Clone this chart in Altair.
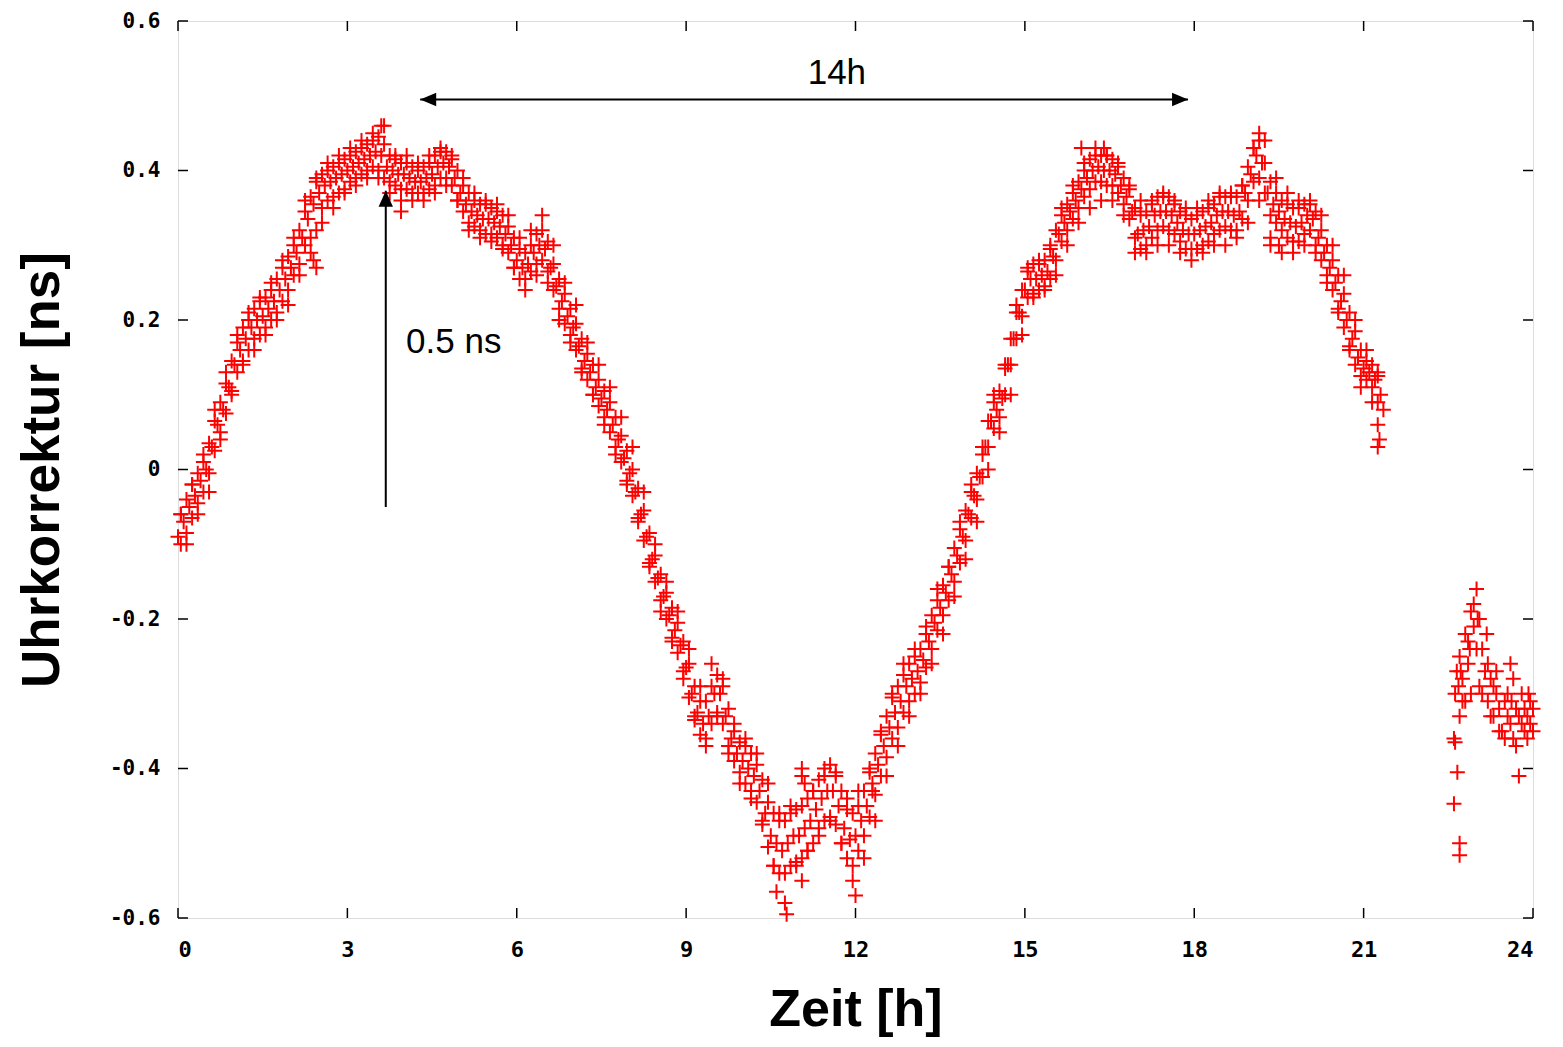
import altair as alt
import pandas as pd

# ---- data ----
# main band, centre trace sampled every 0.1 h starting at 0.0 h
mid_v = [
    -0.09, -0.07, -0.05, -0.035, -0.015, 0.0, 0.03, 0.06, 0.08, 0.11,
    0.14, 0.16, 0.175, 0.19, 0.2, 0.205, 0.215, 0.225, 0.24, 0.255,
    0.27, 0.29, 0.31, 0.335, 0.355, 0.37, 0.38, 0.385, 0.39, 0.395,
    0.4, 0.405, 0.41, 0.415, 0.42, 0.425, 0.42, 0.405, 0.4, 0.395,
    0.395, 0.39, 0.385, 0.385, 0.39, 0.395, 0.405, 0.41, 0.405, 0.39,
    0.37, 0.355, 0.345, 0.34, 0.335, 0.335, 0.33, 0.325, 0.315, 0.3,
    0.28, 0.27, 0.275, 0.29, 0.3, 0.295, 0.27, 0.245, 0.225, 0.205,
    0.19, 0.165, 0.145, 0.13, 0.11, 0.095, 0.08, 0.06, 0.04, 0.015,
    -0.005, -0.03, -0.06, -0.09, -0.12, -0.145, -0.17, -0.195, -0.215, -0.235,
    -0.265, -0.3, -0.325, -0.34, -0.33, -0.3, -0.3, -0.33, -0.36, -0.38,
    -0.39, -0.4, -0.41, -0.43, -0.46, -0.49, -0.5, -0.51, -0.5, -0.49,
    -0.49, -0.48, -0.47, -0.455, -0.44, -0.43, -0.43, -0.45, -0.48, -0.495,
    -0.49, -0.47, -0.45, -0.42, -0.395, -0.37, -0.345, -0.325, -0.31, -0.29,
    -0.28, -0.27, -0.255, -0.23, -0.205, -0.185, -0.165, -0.14, -0.115, -0.09,
    -0.06, -0.035, -0.01, 0.03, 0.065, 0.08, 0.095, 0.14, 0.175, 0.21,
    0.24, 0.255, 0.255, 0.26, 0.265, 0.285, 0.315, 0.33, 0.345, 0.36,
    0.375, 0.39, 0.4, 0.405, 0.4, 0.4, 0.395, 0.38, 0.365, 0.345,
    0.315, 0.32, 0.325, 0.34, 0.345, 0.345, 0.34, 0.33, 0.32, 0.315,
    0.315, 0.32, 0.325, 0.33, 0.34, 0.345, 0.345, 0.34, 0.345, 0.37,
    0.395, 0.42, 0.41, 0.37, 0.355, 0.345, 0.335, 0.33, 0.325, 0.33,
    0.34, 0.335, 0.31, 0.29, 0.27, 0.25, 0.225, 0.2, 0.175, 0.15,
    0.135, 0.13, 0.12, 0.1,
]
# upper-middle of the band, every 0.1 h starting at 0.05 h
um_v = [
    -0.06, -0.04, -0.02, -0.005, 0.01, 0.035, 0.065, 0.09, 0.115, 0.145,
    0.17, 0.19, 0.2, 0.215, 0.225, 0.23, 0.24, 0.255, 0.27, 0.285,
    0.3, 0.32, 0.345, 0.365, 0.385, 0.395, 0.4, 0.405, 0.41, 0.415,
    0.42, 0.425, 0.43, 0.435, 0.44, 0.445, 0.435, 0.42, 0.415, 0.41,
    0.41, 0.405, 0.4, 0.405, 0.41, 0.42, 0.425, 0.425, 0.415, 0.4,
    0.38, 0.37, 0.36, 0.355, 0.355, 0.35, 0.345, 0.34, 0.325, 0.31,
    0.295, 0.29, 0.3, 0.315, 0.32, 0.305, 0.275, 0.255, 0.235, 0.215,
    0.195, 0.175, 0.155, 0.14, 0.12, 0.105, 0.09, 0.07, 0.045, 0.025,
    0.0, -0.025, -0.055, -0.085, -0.115, -0.14, -0.165, -0.185, -0.205, -0.23,
    -0.26, -0.29, -0.31, -0.31, -0.29, -0.275, -0.29, -0.32, -0.35, -0.365,
    -0.37, -0.38, -0.395, -0.415, -0.445, -0.46, -0.47, -0.47, -0.46, -0.455,
    -0.45, -0.44, -0.43, -0.415, -0.4, -0.395, -0.405, -0.43, -0.455, -0.46,
    -0.45, -0.43, -0.405, -0.38, -0.355, -0.33, -0.305, -0.29, -0.275, -0.26,
    -0.25, -0.24, -0.22, -0.195, -0.175, -0.155, -0.13, -0.105, -0.08, -0.055,
    -0.03, -0.005, 0.03, 0.065, 0.09, 0.105, 0.135, 0.175, 0.21, 0.24,
    0.265, 0.275, 0.275, 0.28, 0.295, 0.32, 0.34, 0.355, 0.37, 0.385,
    0.4, 0.415, 0.42, 0.42, 0.42, 0.415, 0.405, 0.39, 0.375, 0.35,
    0.34, 0.345, 0.355, 0.365, 0.365, 0.365, 0.355, 0.345, 0.34, 0.335,
    0.34, 0.345, 0.35, 0.355, 0.365, 0.365, 0.365, 0.365, 0.38, 0.405,
    0.43, 0.44, 0.41, 0.385, 0.37, 0.36, 0.355, 0.35, 0.35, 0.355,
    0.355, 0.345, 0.32, 0.3, 0.28, 0.26, 0.235, 0.21, 0.185, 0.16,
    0.145, 0.14, 0.125,
]
# lower-middle of the band, every 0.1 h starting at 0.05 h
lm_v = [
    -0.1, -0.085, -0.065, -0.045, -0.03, -0.005, 0.025, 0.05, 0.075, 0.105,
    0.13, 0.145, 0.16, 0.175, 0.18, 0.19, 0.2, 0.21, 0.225, 0.24,
    0.26, 0.275, 0.3, 0.31, 0.32, 0.35, 0.36, 0.365, 0.37, 0.375,
    0.385, 0.39, 0.395, 0.4, 0.405, 0.4, 0.39, 0.385, 0.38, 0.375,
    0.375, 0.37, 0.37, 0.37, 0.375, 0.38, 0.39, 0.39, 0.38, 0.36,
    0.345, 0.33, 0.325, 0.32, 0.315, 0.315, 0.31, 0.3, 0.29, 0.27,
    0.255, 0.255, 0.265, 0.275, 0.28, 0.265, 0.24, 0.215, 0.195, 0.18,
    0.16, 0.135, 0.12, 0.1, 0.085, 0.07, 0.05, 0.03, 0.01, -0.015,
    -0.035, -0.065, -0.095, -0.125, -0.15, -0.175, -0.2, -0.225, -0.245, -0.27,
    -0.305, -0.335, -0.355, -0.36, -0.34, -0.325, -0.34, -0.37, -0.39, -0.405,
    -0.42, -0.43, -0.445, -0.475, -0.505, -0.53, -0.54, -0.54, -0.53, -0.525,
    -0.52, -0.51, -0.5, -0.48, -0.47, -0.465, -0.475, -0.5, -0.52, -0.53,
    -0.51, -0.49, -0.465, -0.435, -0.41, -0.385, -0.36, -0.345, -0.325, -0.31,
    -0.3, -0.285, -0.265, -0.24, -0.215, -0.195, -0.175, -0.15, -0.125, -0.095,
    -0.065, -0.04, -0.01, 0.03, 0.055, 0.07, 0.1, 0.14, 0.175, 0.205,
    0.23, 0.235, 0.24, 0.245, 0.255, 0.28, 0.305, 0.32, 0.335, 0.35,
    0.365, 0.375, 0.385, 0.385, 0.38, 0.38, 0.37, 0.355, 0.335, 0.31,
    0.295, 0.3, 0.31, 0.32, 0.325, 0.32, 0.315, 0.305, 0.295, 0.295,
    0.295, 0.3, 0.305, 0.315, 0.32, 0.325, 0.32, 0.32, 0.335, 0.36,
    0.385, 0.39, 0.37, 0.34, 0.33, 0.32, 0.31, 0.305, 0.305, 0.315,
    0.32, 0.3, 0.28, 0.26, 0.24, 0.215, 0.19, 0.165, 0.14, 0.125,
    0.12, 0.11, 0.09,
]
# upper edge of the band, every 0.2 h starting at 0.05 h
hi_v = [
    -0.06, -0.02, 0.02, 0.08, 0.13, 0.18, 0.21, 0.23, 0.25, 0.28,
    0.31, 0.36, 0.39, 0.41, 0.42, 0.43, 0.44, 0.45, 0.46, 0.42,
    0.42, 0.41, 0.42, 0.43, 0.42, 0.39, 0.37, 0.36, 0.355, 0.34,
    0.31, 0.32, 0.34, 0.3, 0.25, 0.22, 0.17, 0.14, 0.11, 0.07,
    0.03, -0.03, -0.1, -0.15, -0.19, -0.24, -0.29, -0.26, -0.28, -0.34,
    -0.36, -0.38, -0.42, -0.46, -0.45, -0.4, -0.43, -0.41, -0.41, -0.44,
    -0.43, -0.4, -0.35, -0.3, -0.26, -0.24, -0.21, -0.16, -0.13, -0.07,
    -0.02, 0.02, 0.1, 0.14, 0.22, 0.27, 0.28, 0.3, 0.35, 0.38,
    0.41, 0.43, 0.42, 0.41, 0.38, 0.36, 0.36, 0.37, 0.36, 0.35,
    0.35, 0.36, 0.37, 0.37, 0.38, 0.43, 0.44, 0.39, 0.37, 0.36,
    0.36, 0.34, 0.3, 0.26, 0.2, 0.16, 0.13,
]
# lower edge of the band, every 0.2 h starting at 0.15 h
lo_v = [
    -0.1, -0.06, -0.03, 0.04, 0.1, 0.14, 0.16, 0.18, 0.2, 0.22,
    0.26, 0.29, 0.33, 0.35, 0.37, 0.38, 0.39, 0.39, 0.37, 0.36,
    0.36, 0.36, 0.37, 0.38, 0.36, 0.32, 0.31, 0.305, 0.295, 0.27,
    0.24, 0.26, 0.25, 0.2, 0.17, 0.13, 0.1, 0.06, 0.02, -0.02,
    -0.07, -0.13, -0.19, -0.23, -0.28, -0.33, -0.37, -0.33, -0.38, -0.42,
    -0.44, -0.47, -0.53, -0.58, -0.53, -0.51, -0.49, -0.47, -0.5, -0.55,
    -0.52, -0.47, -0.41, -0.37, -0.33, -0.3, -0.26, -0.22, -0.17, -0.12,
    -0.07, 0.0, 0.05, 0.1, 0.18, 0.23, 0.24, 0.26, 0.3, 0.33,
    0.35, 0.36, 0.36, 0.34, 0.29, 0.29, 0.3, 0.3, 0.29, 0.28,
    0.29, 0.3, 0.3, 0.31, 0.33, 0.36, 0.31, 0.29, 0.29, 0.3,
    0.29, 0.25, 0.21, 0.16, 0.11, 0.09,
]
# isolated points / outliers
extra_t = [10.78, 10.6, 11.05, 12.0, 11.05, 11.1, 12.3, 21.25, 21.28, 21.25,
           21.35, 2.4, 2.45, 3.95, 3.6, 19.35, 19.5, 19.15, 16.0, 16.4]
extra_v = [-0.595, -0.565, -0.55, -0.57, -0.41, -0.42, -0.43, 0.06, 0.04, 0.03,
           0.08, 0.28, 0.27, 0.345, 0.46, 0.3, 0.3, 0.45, 0.43, 0.43]
# group after the data gap (22.6 h - 24 h)
late_t = [22.6, 22.62, 22.65, 22.7, 22.7, 22.75, 22.8, 22.8, 22.85, 22.9,
          22.9, 22.95, 23.0, 23.0, 23.05, 23.05, 23.1, 23.15, 23.2, 23.2,
          23.25, 23.3, 23.3, 23.35, 23.4, 23.45, 23.5, 23.5, 23.55, 23.6,
          23.6, 23.65, 23.7, 23.7, 23.75, 23.8, 23.8, 23.85, 23.9, 23.9,
          23.95, 24.0, 24.0, 22.62, 22.66, 22.6, 22.7, 22.7,
          22.68, 22.75, 22.85, 22.95, 23.1, 23.25, 23.4, 23.55, 23.65, 23.75,
          23.85, 23.95, 22.72, 22.88, 23.02, 23.18, 23.35, 23.62, 23.92]
late_v = [-0.36, -0.3, -0.27, -0.25, -0.33, -0.28, -0.22, -0.31, -0.26, -0.19,
          -0.3, -0.18, -0.16, -0.24, -0.2, -0.29, -0.24, -0.27, -0.26, -0.31,
          -0.28, -0.29, -0.33, -0.3, -0.32, -0.35, -0.31, -0.36, -0.33, -0.26,
          -0.34, -0.28, -0.32, -0.37, -0.41, -0.3, -0.34, -0.32, -0.33, -0.36,
          -0.31, -0.32, -0.35, -0.365, -0.405, -0.447, -0.5, -0.516,
          -0.29, -0.31, -0.23, -0.21, -0.3, -0.33, -0.35, -0.3, -0.36, -0.33,
          -0.35, -0.34, -0.27, -0.24, -0.2, -0.22, -0.27, -0.31, -0.3]

x_ticks = [0, 3, 6, 9, 12, 15, 18, 21, 24]
y_ticks = [-0.6, -0.4, -0.2, 0.0, 0.2, 0.4, 0.6]

# annotations (data units)
h_arrow = {"x": 4.29, "x2": 17.89, "y": 0.495}
v_arrow = {"x": 3.68, "y": -0.05, "y2": 0.373}
labels = pd.DataFrame({"t": [11.67, 4.04], "v": [0.531, 0.171],
                       "txt": ["14h", "0.5 ns"], "al": ["center", "left"]})

# ---- build tables ----
mid_t = [round(0.1 * i, 2) for i in range(len(mid_v))]
um_t = [round(0.05 + 0.1 * i, 2) for i in range(len(um_v))]
lm_t = [round(0.05 + 0.1 * i, 2) for i in range(len(lm_v))]
hi_t = [round(0.05 + 0.2 * i, 2) for i in range(len(hi_v))]
lo_t = [round(0.15 + 0.2 * i, 2) for i in range(len(lo_v))]
df = pd.DataFrame({
    "t": mid_t + um_t + lm_t + hi_t + lo_t + extra_t + late_t,
    "v": mid_v + um_v + lm_v + hi_v + lo_v + extra_v + late_v,
})

W, H = 1355, 897
RED = "#ff0000"
xs = alt.Scale(domain=[0, 24], nice=False, zero=False)
ys = alt.Scale(domain=[-0.6, 0.6], nice=False, zero=False)

x_axis = alt.Axis(values=x_ticks, format="d", ticks=False, tickSize=0, domain=False,
                  grid=False, labelFont="DejaVu Sans Mono", labelFontWeight="bold",
                  labelFontSize=22, labelColor="black", labelPadding=21,
                  title="Zeit [h]", titleFont="Liberation Sans", titleFontSize=52,
                  titleFontWeight="bold", titleColor="black", titlePadding=24)
y_axis = alt.Axis(values=y_ticks, ticks=False, tickSize=0, domain=False, grid=False,
                  labelExpr="datum.value == 0 ? '0' : (datum.value < 0 ? '-' : '') + format(abs(datum.value), '.1f')",
                  labelFont="DejaVu Sans Mono", labelFontWeight="bold",
                  labelFontSize=21, labelColor="black", labelPadding=18,
                  title="Uhrkorrektur [ns]", titleFont="Liberation Sans", titleFontSize=53,
                  titleFontWeight="bold", titleColor="black", titlePadding=40)

base = alt.Chart(df)
points = base.mark_point(
    shape="M-1,0L1,0M0,-1L0,1", size=225, filled=False, color=RED,
    strokeWidth=2, opacity=1,
).encode(x=alt.X("t:Q", scale=xs, axis=x_axis), y=alt.Y("v:Q", scale=ys, axis=y_axis))

xt = pd.DataFrame({"t": x_ticks})
yt = pd.DataFrame({"v": y_ticks})
TL = 10
tick_b = alt.Chart(xt).mark_rule(color="black", strokeWidth=1.5).encode(
    x=alt.X("t:Q", scale=xs), y=alt.value(H), y2=alt.value(H - TL))
tick_t = alt.Chart(xt).mark_rule(color="black", strokeWidth=1.5).encode(
    x=alt.X("t:Q", scale=xs), y=alt.value(0), y2=alt.value(TL))
tick_l = alt.Chart(yt).mark_rule(color="black", strokeWidth=1.5).encode(
    y=alt.Y("v:Q", scale=ys), x=alt.value(0), x2=alt.value(TL))
tick_r = alt.Chart(yt).mark_rule(color="black", strokeWidth=1.5).encode(
    y=alt.Y("v:Q", scale=ys), x=alt.value(W), x2=alt.value(W - TL))

hdf = pd.DataFrame([h_arrow])
vdf = pd.DataFrame([v_arrow])
h_line = alt.Chart(hdf).mark_rule(color="black", strokeWidth=2).encode(
    x=alt.X("x:Q", scale=xs), x2="x2:Q", y=alt.Y("y:Q", scale=ys))
v_line = alt.Chart(vdf).mark_rule(color="black", strokeWidth=2).encode(
    x=alt.X("x:Q", scale=xs), y=alt.Y("y:Q", scale=ys), y2="y2:Q")
head_l = alt.Chart(hdf).mark_point(shape="M0,0L1,-0.42L1,0.42Z", size=1024, filled=True,
                                   color="black", opacity=1).encode(
    x=alt.X("x:Q", scale=xs), y=alt.Y("y:Q", scale=ys))
head_r = alt.Chart(hdf).mark_point(shape="M0,0L-1,-0.42L-1,0.42Z", size=1024, filled=True,
                                   color="black", opacity=1).encode(
    x=alt.X("x2:Q", scale=xs), y=alt.Y("y:Q", scale=ys))
head_u = alt.Chart(vdf).mark_point(shape="M0,0L-0.45,1L0.45,1Z", size=1024, filled=True,
                                   color="black", opacity=1).encode(
    x=alt.X("x:Q", scale=xs), y=alt.Y("y2:Q", scale=ys))

txt_c = alt.Chart(labels[labels.al == "center"]).mark_text(
    font="Liberation Sans", fontSize=35, color="black", align="center", baseline="middle"
).encode(x=alt.X("t:Q", scale=xs), y=alt.Y("v:Q", scale=ys), text="txt:N")
txt_l = alt.Chart(labels[labels.al == "left"]).mark_text(
    font="Liberation Sans", fontSize=35, color="black", align="left", baseline="middle"
).encode(x=alt.X("t:Q", scale=xs), y=alt.Y("v:Q", scale=ys), text="txt:N")

chart = alt.layer(
    points, tick_b, tick_t, tick_l, tick_r,
    h_line, v_line, head_l, head_r, head_u, txt_c, txt_l,
).properties(
    width=W, height=H,
    padding={"left": 170, "top": 13, "right": 14, "bottom": 121},
    autosize=alt.AutoSizeParams(type="none"),
).configure_view(stroke="black", strokeWidth=2).configure(background="white")

chart.save("out.html", embed_options={"renderer": "svg", "actions": False})
